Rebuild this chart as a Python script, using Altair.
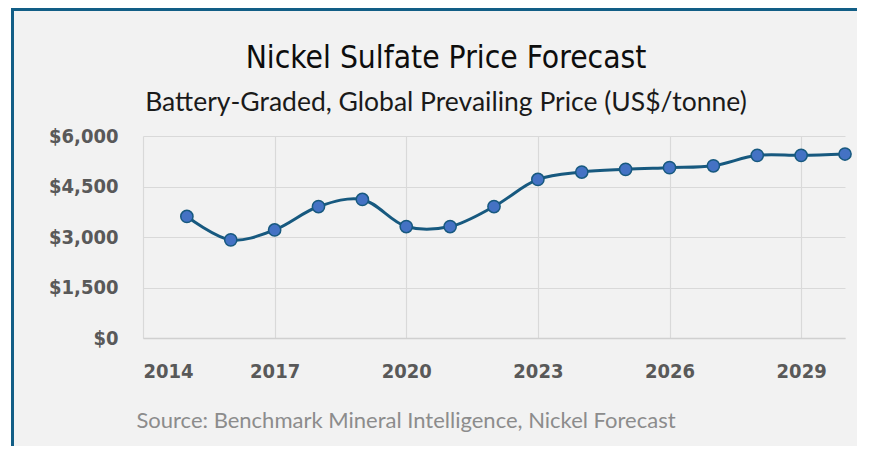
import altair as alt
import pandas as pd

years = [2015, 2016, 2017, 2018, 2019, 2020, 2021, 2022, 2023, 2024, 2025, 2026, 2027, 2028, 2029, 2030]
prices = [3610, 2915, 3210, 3905, 4115, 3310, 3310, 3905, 4710, 4930, 5010, 5060, 5115, 5425, 5425, 5465]
y_ticks = [0, 1500, 3000, 4500, 6000]
x_ticks = [2014, 2017, 2020, 2023, 2026, 2029]
title_text = "Nickel Sulfate Price Forecast"
subtitle_text = "Battery-Graded, Global Prevailing Price (US$/tonne)"
source_text = "Source: Benchmark Mineral Intelligence, Nickel Forecast"

df = pd.DataFrame({"year": years, "price": prices})

W, H = 702, 202
PL, PT, PR, PB = 135, 128, 12, 108

AXF = "DejaVu Sans Condensed"

x_enc = alt.X("year:Q", scale=alt.Scale(domain=[2014, 2030], nice=False, zero=False),
              axis=alt.Axis(values=x_ticks, format="d", title=None, grid=True, ticks=False,
                            labelPadding=23, labelFont=AXF, labelFontWeight="bold",
                            labelFontSize=20, labelColor="#595959", domainColor="#d0d0d0", domainWidth=1.5,
                            gridColor="#d9d9d9", gridWidth=1.2))
y_enc = alt.Y("price:Q", scale=alt.Scale(domain=[0, 6000], nice=False),
              axis=alt.Axis(values=y_ticks, format="$,.0f", title=None, grid=True, ticks=False,
                            labelPadding=25, labelFont=AXF, labelFontWeight="bold",
                            labelFontSize=20, labelColor="#595959", domain=False,
                            gridColor="#d9d9d9", gridWidth=1.2))

line = alt.Chart(df).mark_line(color="#17597f", strokeWidth=3, interpolate="catmull-rom").encode(x=x_enc, y=y_enc)
pts = alt.Chart(df).mark_point(filled=True, fill="#4472c4", stroke="#17597f", strokeWidth=1.5,
                               size=150, opacity=1).encode(x="year:Q", y="price:Q")

def txt(s, x, y, size, font, color, weight="normal"):
    return alt.Chart(pd.DataFrame({"t": [s]})).mark_text(
        font=font, fontSize=size, color=color, fontWeight=weight, align="center", baseline="alphabetic"
    ).encode(text="t:N", x=alt.value(x), y=alt.value(y))

frame_df = pd.DataFrame({"k": [0]})
white_strip = alt.Chart(frame_df).mark_rect(color="white").encode(
    x=alt.value(-PL), x2=alt.value(-PL + 3), y=alt.value(-PT), y2=alt.value(H + PB))
left_border = alt.Chart(frame_df).mark_rule(color="#125e86", strokeWidth=3).encode(
    x=alt.value(-PL + 4.5), y=alt.value(-PT), y2=alt.value(H + PB))
top_border = alt.Chart(frame_df).mark_rule(color="#125e86", strokeWidth=3).encode(
    y=alt.value(-PT + 1.5), x=alt.value(-PL + 3), x2=alt.value(W + PR))

title = txt(title_text, 303, -68, 31.5, "DejaVu Sans Condensed", "#0d0d0d")
subtitle = txt(subtitle_text, 303, -25, 26.5, "Lato", "#1a1a1a")
source = txt(source_text, 263, 292, 22, "Lato", "#8c8c8c")

chart = alt.layer(white_strip, left_border, top_border, title, subtitle, source, line, pts).properties(
    width=W, height=H,
    autosize=alt.AutoSizeParams(type="none"),
    padding={"left": PL, "top": PT, "right": PR, "bottom": PB},
    background="#f2f2f2",
).configure_view(stroke=None)

chart.save("out.html", embed_options={"renderer": "svg", "actions": False})
